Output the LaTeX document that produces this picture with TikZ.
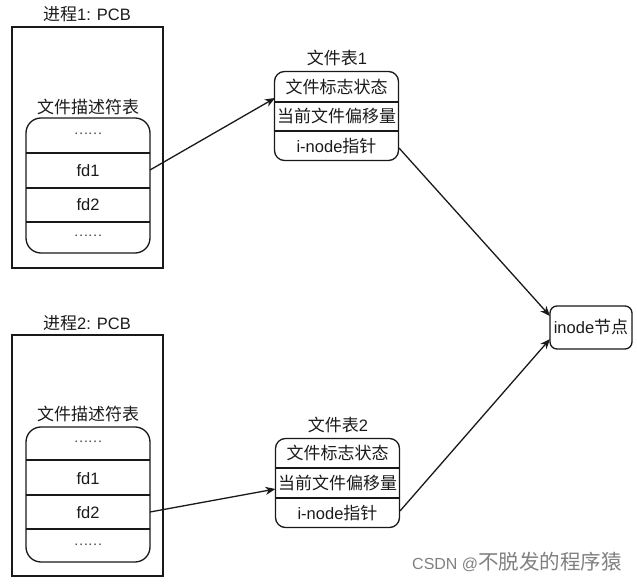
\documentclass[tikz,border=0pt]{standalone}
\usepackage{fontspec}
\setmainfont{Liberation Sans}
\newfontfamily\cjk{Noto Sans CJK SC}
\usetikzlibrary{arrows.meta}
\newcommand{\zh}[1]{{\cjk\fontsize{17}{18}\selectfont #1}}
\newcommand{\zhwm}[1]{{\cjk\fontsize{20.5}{22}\selectfont #1}}
\definecolor{txt}{HTML}{1A1A1A}
\begin{document}
\begin{tikzpicture}[x=1pt,y=-1pt,
  every node/.style={text=txt,font=\fontsize{16.5}{18}\selectfont,inner sep=0pt},
  line/.style={draw=black!90,line width=1.3pt},
  pcbbox/.style={line,minimum width=151pt,minimum height=241pt},
  fdtab/.style={line,rounded corners=15pt,minimum width=124pt,minimum height=135pt},
  ftab/.style={line,rounded corners=10pt,minimum width=124pt,minimum height=89pt},
  inodebox/.style={line,rounded corners=7pt,minimum width=82pt,minimum height=43pt},
  lbl/.style={},
  dots/.style={text=black!70,font=\cjk\fontsize{13}{14}\selectfont},
  arr/.style={line,-{Stealth[length=10pt,width=8pt,inset=3pt]}}
]
\useasboundingbox (0,0) rectangle (637,585);

% ---------- Process 1 ----------
\node[pcbbox] (pcb1) at (87.5,147.5) {};
\node[lbl] (pcb1t) at (87,14) {\zh{进程}1: PCB};
\node[lbl] (fdt1t) at (88,107) {\zh{文件描述符表}};
\node[fdtab] (fdt1) at (88,185.5) {};
\draw[line] (26,153) -- (150,153);
\draw[line] (26,188) -- (150,188);
\draw[line] (26,222) -- (150,222);
\node[dots] (p1a) at (88,134) {……};
\node[lbl] (p1fd1) at (88,171) {fd1};
\node[lbl] (p1fd2) at (88,205) {fd2};
\node[dots] (p1b) at (88,236) {……};
\coordinate (p1out) at (150,170);

% ---------- Process 2 ----------
\node[pcbbox] (pcb2) at (87.5,455.5) {};
\node[lbl] (pcb2t) at (87,323) {\zh{进程}2: PCB};
\node[lbl] (fdt2t) at (88,414) {\zh{文件描述符表}};
\node[fdtab] (fdt2) at (88,494.5) {};
\draw[line] (26,460) -- (150,460);
\draw[line] (26,495) -- (150,495);
\draw[line] (26,529) -- (150,529);
\node[dots] (p2a) at (88,442) {……};
\node[lbl] (p2fd1) at (88,479) {fd1};
\node[lbl] (p2fd2) at (88,513) {fd2};
\node[dots] (p2b) at (88,545) {……};
\coordinate (p2out) at (150,512);

% ---------- File table 1 ----------
\node[lbl] (ft1t) at (337,58) {\zh{文件表}1};
\node[ftab] (ft1) at (336.5,116) {};
\draw[line] (275,102) -- (398,102);
\draw[line] (275,131) -- (398,131);
\node[lbl] (ft1a) at (336.5,87) {\zh{文件标志状态}};
\node[lbl] (ft1b) at (336.5,116.5) {\zh{当前文件偏移量}};
\node[lbl] (ft1c) at (336.5,146) {i-node\zh{指针}};
\coordinate (ft1in) at (275,98);
\coordinate (ft1out) at (399,148);

% ---------- File table 2 ----------
\node[lbl] (ft2t) at (338,425) {\zh{文件表}2};
\node[ftab] (ft2) at (337.5,483) {};
\draw[line] (275.5,468) -- (399.5,468);
\draw[line] (275.5,498) -- (399.5,498);
\node[lbl] (ft2a) at (337.5,453) {\zh{文件标志状态}};
\node[lbl] (ft2b) at (337.5,483) {\zh{当前文件偏移量}};
\node[lbl] (ft2c) at (337.5,513) {i-node\zh{指针}};
\coordinate (ft2in) at (275.5,489);
\coordinate (ft2out) at (400,511);

% ---------- inode ----------
\node[inodebox] (inode) at (591,327.5) {inode\zh{节点}};
\coordinate (in1) at (550,316);
\coordinate (in2) at (550,339);

% ---------- arrows ----------
\draw[arr] (p1out) -- (ft1in);
\draw[arr] (p2out) -- (ft2in);
\draw[arr] (ft1out) -- (in1);
\draw[arr] (ft2out) -- (in2);

% ---------- watermark ----------
\node[text=black!50,font=\fontsize{16}{18}\selectfont,anchor=west] (wm) at (412,562) {CSDN @\zhwm{不脱发的程序猿}};
\end{tikzpicture}
\end{document}
